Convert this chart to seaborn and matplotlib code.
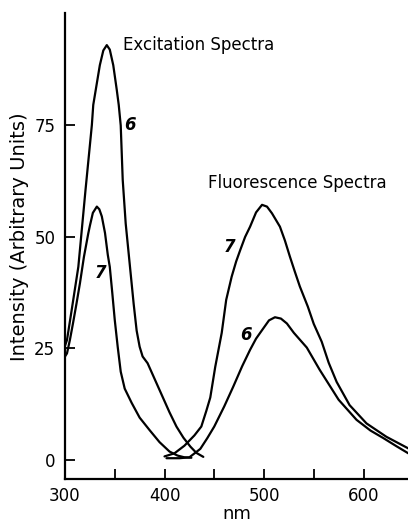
import matplotlib
matplotlib.use("Agg")
import matplotlib.pyplot as plt
import seaborn as sns
import pandas as pd
from matplotlib.ticker import FixedLocator

sns.set_theme(style="ticks")
plt.rcParams['font.family'] = ['DejaVu Sans']

# Excitation spectra
ex6_nm = [300, 302, 306.7, 313.4, 320.6, 327, 328.4, 335, 338.5, 342, 345, 348.5, 352, 354, 356, 358,
          361, 365, 369, 372, 375, 378, 383, 390, 398, 405, 412, 419, 426, 432, 439]
ex6_int = [25.6, 26.9, 33.6, 43.3, 60.5, 75.1, 79.6, 88.5, 91.8, 93, 92, 88.5, 83, 79.6, 75, 62.8,
           53, 44, 35, 29, 25.4, 23.2, 21.7, 18.2, 14.2, 10.7, 7.5, 5, 3, 1.6, 0.7]

ex7_nm = [300, 302, 305, 308, 311.5, 315, 319, 323.4, 325, 328, 332, 334.5, 337, 340.2, 343, 345,
          347.5, 350, 353, 356, 360, 367, 375, 385, 395, 405, 413, 420, 427]
ex7_int = [23.2, 23.9, 27, 30.6, 35, 39.6, 45.5, 50.8, 52.5, 55.4, 56.8, 56.2, 54.6, 50.9, 46, 43.3,
           37.5, 31.4, 25.3, 19.8, 16, 12.8, 9.5, 6.7, 4, 1.9, 1.0, 0.6, 0.5]

# Fluorescence spectra
fl7_nm = [400, 410, 420, 430, 437, 442, 446, 451, 457.5, 462, 467.5, 472, 476, 481, 486, 492, 498,
          503, 508, 516, 521, 526, 531, 536, 544, 550, 558, 565, 573, 586, 603, 623, 645]
fl7_int = [0.8, 1.5, 3.2, 5.5, 7.5, 11, 14, 20.9, 28.5, 35.9, 41.1, 44.5, 47, 50, 52.3, 55.5, 57.2,
           56.8, 55.3, 52.3, 49.2, 45.6, 42.2, 38.9, 34.4, 30.5, 26.5, 21.8, 17.5, 12.3, 8.2, 5.2, 2.6]

fl6_nm = [402, 415, 425, 432, 436, 443, 450, 460, 469, 478, 486, 492, 498, 505, 511, 517, 523,
          530, 543, 556, 575, 593, 607, 620, 633, 645]
fl6_int = [0.4, 0.4, 0.6, 1.8, 2.5, 4.9, 7.5, 12, 16.4, 21, 24.7, 27.2, 29.1, 31.3, 32, 31.7, 30.6,
           28.5, 25.2, 20.2, 13.5, 9, 6.6, 4.9, 3.1, 1.5]

x_ticks_major = [300, 400, 500, 600]
x_ticks_minor = [350, 450, 550]
y_ticks = [0, 25, 50, 75]

curve_labels = [("6", 365, 75), ("7", 336, 42), ("7", 465, 47.8), ("6", 482, 28)]
titles = [("Excitation Spectra", 358, 93), ("Fluorescence Spectra", 443.7, 62.1)]

frames = []
for name, xs, ys in [("ex6", ex6_nm, ex6_int), ("ex7", ex7_nm, ex7_int),
                     ("fl7", fl7_nm, fl7_int), ("fl6", fl6_nm, fl6_int)]:
    frames.append(pd.DataFrame({"nm": xs, "intensity": ys, "curve": name}))
df = pd.concat(frames, ignore_index=True)

fig = plt.figure(figsize=(4.08, 5.25), dpi=100)
ax = fig.add_axes([65/408, 1-479/525, 1-65/408, (479-13)/525])

sns.lineplot(data=df, x="nm", y="intensity", units="curve", estimator=None, sort=False,
             color="black", linewidth=1.6, ax=ax, legend=False)

ax.set_xlim(300, 644.7)
ax.set_ylim(-4.26, 100.2)
ax.xaxis.set_major_locator(FixedLocator(x_ticks_major))
ax.xaxis.set_minor_locator(FixedLocator(x_ticks_minor))
ax.yaxis.set_major_locator(FixedLocator(y_ticks))
ax.tick_params(axis="both", which="both", direction="in", length=7, width=1.3, color="black",
               labelsize=12, labelcolor="black")
ax.tick_params(axis="x", pad=6)
ax.tick_params(axis="y", pad=7)
for s in ["top", "right"]:
    ax.spines[s].set_visible(False)
for s in ["left", "bottom"]:
    ax.spines[s].set_linewidth(1.6)
    ax.spines[s].set_color("black")

ax.set_xlabel("nm", fontsize=13, color="black", labelpad=0)
ax.set_ylabel("Intensity (Arbitrary Units)", fontsize=14, color="black")
ax.yaxis.set_label_coords(-0.105, 0.52)

for t, x, y in curve_labels:
    ax.text(x, y, t, fontsize=12, fontstyle="italic", fontweight="bold", ha="center", va="center",
            color="black")
for t, x, y in titles:
    ax.text(x, y, t, fontsize=12, ha="left", va="center", color="black")

fig.savefig("out.png", dpi=100)
